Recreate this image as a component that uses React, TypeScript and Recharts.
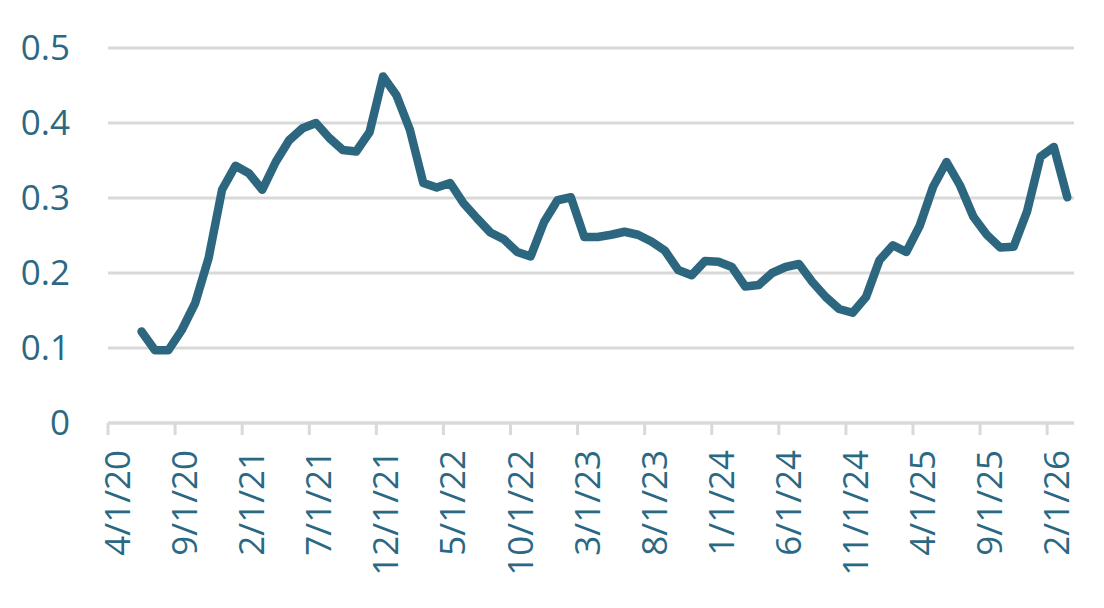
import { LineChart, Line, XAxis, YAxis, CartesianGrid } from "recharts"

// monthly observations, first of each month
const MONTHS = [
  "6/1/20", "7/1/20", "8/1/20", "9/1/20", "10/1/20", "11/1/20", "12/1/20",
  "1/1/21", "2/1/21", "3/1/21", "4/1/21", "5/1/21", "6/1/21", "7/1/21", "8/1/21", "9/1/21", "10/1/21", "11/1/21", "12/1/21",
  "1/1/22", "2/1/22", "3/1/22", "4/1/22", "5/1/22", "6/1/22", "7/1/22", "8/1/22", "9/1/22", "10/1/22", "11/1/22", "12/1/22",
  "1/1/23", "2/1/23", "3/1/23", "4/1/23", "5/1/23", "6/1/23", "7/1/23", "8/1/23", "9/1/23", "10/1/23", "11/1/23", "12/1/23",
  "1/1/24", "2/1/24", "3/1/24", "4/1/24", "5/1/24", "6/1/24", "7/1/24", "8/1/24", "9/1/24", "10/1/24", "11/1/24", "12/1/24",
  "1/1/25", "2/1/25", "3/1/25", "4/1/25", "5/1/25", "6/1/25", "7/1/25", "8/1/25", "9/1/25", "10/1/25", "11/1/25", "12/1/25",
  "1/1/26", "2/1/26", "3/1/26",
]

const VALUES = [
  0.122, 0.097, 0.097, 0.124, 0.16, 0.22, 0.311,
  0.343, 0.333, 0.311, 0.348, 0.377, 0.393, 0.4, 0.38, 0.364, 0.362, 0.388, 0.462,
  0.437, 0.391, 0.32, 0.314, 0.32, 0.293, 0.273, 0.254, 0.245, 0.228, 0.222, 0.268,
  0.297, 0.301, 0.248, 0.248, 0.251, 0.255, 0.251, 0.242, 0.23, 0.204, 0.197, 0.216,
  0.215, 0.208, 0.182, 0.184, 0.2, 0.208, 0.212, 0.188, 0.168, 0.152, 0.147, 0.168,
  0.217, 0.237, 0.228, 0.263, 0.315, 0.348, 0.317, 0.275, 0.251, 0.234, 0.235, 0.282,
  0.355, 0.368, 0.301,
]

const X_TICK_LABELS = [
  "4/1/20", "9/1/20", "2/1/21", "7/1/21", "12/1/21", "5/1/22", "10/1/22", "3/1/23",
  "8/1/23", "1/1/24", "6/1/24", "11/1/24", "4/1/25", "9/1/25", "2/1/26",
]

const Y_TICKS = [0, 0.1, 0.2, 0.3, 0.4, 0.5]

const LINE_COLOR = "#2c677f"
const TEXT_COLOR = "#2b6883"
const GRID_COLOR = "#d9d9d9"
const FONT = "'Open Sans', sans-serif"

// months since 4/1/20 (axis origin)
function monthIndex(label: string): number {
  const [m, , y] = label.split("/").map(Number)
  return (y - 20) * 12 + (m - 4)
}

const labelByIndex = new Map(X_TICK_LABELS.map((l) => [monthIndex(l), l]))
const xTicks = X_TICK_LABELS.map(monthIndex)

// Excel date axis puts each month in the middle of its interval
const data = MONTHS.map((m, i) => ({ x: monthIndex(m) + 0.5, date: m, value: VALUES[i] }))

function DateTick(props: any) {
  const { x, y, payload } = props
  return (
    <text
      transform={`translate(${x + 22},${y + 15}) rotate(-90)`}
      textAnchor="end"
      fill={TEXT_COLOR}
      fontSize={35}
      fontFamily={FONT}
    >
      {labelByIndex.get(payload.value) ?? ""}
    </text>
  )
}

export default function App() {
  return (
    <div style={{ position: "absolute", left: 0, top: 0, background: "#fff" }}>
      <LineChart width={1104} height={608} data={data} margin={{ top: 48, right: 30, bottom: 0, left: 0 }}>
        <CartesianGrid vertical={false} stroke={GRID_COLOR} strokeWidth={3} />
        <XAxis
          dataKey="x"
          type="number"
          domain={[0, 72]}
          ticks={xTicks}
          interval={0}
          height={185}
          axisLine={{ stroke: GRID_COLOR, strokeWidth: 3 }}
          tickLine={{ stroke: GRID_COLOR, strokeWidth: 3 }}
          tickSize={12}
          tickMargin={0}
          tick={<DateTick />}
        />
        <YAxis
          type="number"
          domain={[0, 0.5]}
          ticks={Y_TICKS}
          width={108}
          axisLine={false}
          tickLine={false}
          tickSize={0}
          tickMargin={38}
          tickFormatter={(v: number) => (v === 0 ? "0" : v.toFixed(1))}
          tick={{ fill: TEXT_COLOR, fontSize: 35, fontFamily: FONT }}
        />
        <Line
          type="linear"
          dataKey="value"
          stroke={LINE_COLOR}
          strokeWidth={8.5}
          strokeLinejoin="round"
          strokeLinecap="round"
          dot={false}
          isAnimationActive={false}
        />
      </LineChart>
    </div>
  )
}
